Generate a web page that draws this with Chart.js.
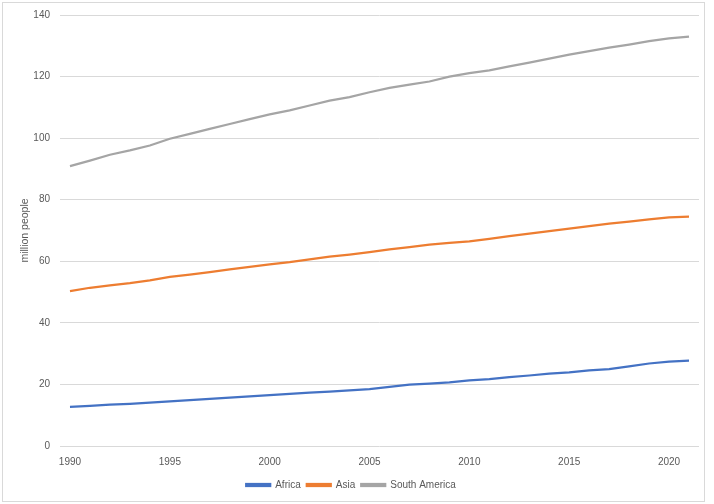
<!DOCTYPE html>
<html>
<head>
<meta charset="utf-8">
<script src="https://cdn.jsdelivr.net/npm/chart.js@4"></script>
<style>
  html, body { margin: 0; padding: 0; background: #fff; }
  body { width: 714px; height: 504px; position: relative; overflow: hidden; }
  #frame {
    position: absolute; left: 2px; top: 2px;
    width: 701px; height: 498px;
    border: 1px solid #d9d9d9;
  }
</style>
</head>
<body>
<div id="frame"><canvas id="chart"></canvas></div>
<script>
// years on the x axis, one point per year
const years = [];
for (let y = 1990; y <= 2021; y++) years.push(String(y));

const africa = [12.7, 13.0, 13.4, 13.7, 14.1, 14.5, 14.9, 15.3, 15.7, 16.1,
  16.5, 16.9, 17.3, 17.7, 18.1, 18.5, 19.2, 19.9, 20.3, 20.7,
  21.3, 21.7, 22.4, 22.9, 23.5, 23.9, 24.6, 25.0, 25.9, 26.8,
  27.4, 27.7];
const asia = [50.3, 51.4, 52.2, 52.9, 53.8, 54.9, 55.7, 56.5, 57.4, 58.2,
  59.0, 59.7, 60.6, 61.5, 62.2, 63.0, 63.9, 64.6, 65.4, 66.0,
  66.5, 67.3, 68.2, 69.0, 69.8, 70.6, 71.4, 72.2, 72.9, 73.6,
  74.3, 74.5];
const southAmerica = [90.9, 92.7, 94.6, 96.0, 97.6, 99.8, 101.4, 103.0, 104.6, 106.2,
  107.7, 109.0, 110.6, 112.2, 113.3, 114.9, 116.3, 117.4, 118.4, 120.0,
  121.1, 122.0, 123.3, 124.5, 125.8, 127.1, 128.3, 129.4, 130.4, 131.5,
  132.4, 133.0];

const yTicks = [0, 20, 40, 60, 80, 100, 120, 140];
const yTitle = 'million people';

const textColor = '#595959';
const gridColor = '#d9d9d9';
const font = { family: '"Liberation Sans", Arial, sans-serif', size: 10 };

function series(label, data, color) {
  return {
    label: label,
    data: data,
    borderColor: color,
    backgroundColor: color,
    borderWidth: 2.25,
    pointRadius: 0,
    tension: 0,
    fill: false
  };
}

// rotated y axis title, centred on the plot area
const yTitlePlugin = {
  id: 'yTitle',
  afterDraw(chart) {
    const ctx = chart.ctx;
    const area = chart.chartArea;
    ctx.save();
    ctx.translate(22, (area.top + area.bottom) / 2);
    ctx.rotate(-Math.PI / 2);
    ctx.font = '10.5px "Liberation Sans", Arial, sans-serif';
    ctx.fillStyle = textColor;
    ctx.textAlign = 'center';
    ctx.textBaseline = 'middle';
    ctx.fillText(yTitle, 0, 0);
    ctx.restore();
  }
};

Chart.defaults.font = font;
Chart.defaults.color = textColor;

new Chart(document.getElementById('chart'), {
  type: 'line',
  data: {
    labels: years,
    datasets: [
      series('Africa', africa, '#4472C4'),
      series('Asia', asia, '#ED7D31'),
      series('South America', southAmerica, '#A5A5A5')
    ]
  },
  options: {
    responsive: true,
    maintainAspectRatio: false,
    animation: false,
    layout: { autoPadding: false, padding: { top: 12, right: 5, left: 0, bottom: 1 } },
    plugins: {
      legend: {
        position: 'bottom',
        labels: { boxWidth: 24, boxHeight: 2, padding: 6, color: textColor, font: font }
      },
      tooltip: { enabled: false }
    },
    scales: {
      x: {
        offset: true,
        grid: { display: false, drawTicks: false },
        border: { display: false },
        ticks: {
          autoSkip: false,
          maxRotation: 0,
          padding: 10,
          callback: function (val, i) {
            const y = years[i];
            return Number(y) % 5 === 0 ? y : '';
          }
        },
        afterFit(scale) { scale.height = 28; }
      },
      y: {
        min: 0,
        max: 140,
        afterBuildTicks(scale) { scale.ticks = yTicks.map(v => ({ value: v })); },
        grid: { color: gridColor, lineWidth: 1, drawTicks: false },
        border: { display: false },
        ticks: { padding: 10 },
        afterFit(scale) { scale.width = 57; scale.paddingTop = 0; scale.paddingBottom = 0; }
      }
    }
  },
  plugins: [yTitlePlugin]
});
</script>
</body>
</html>
